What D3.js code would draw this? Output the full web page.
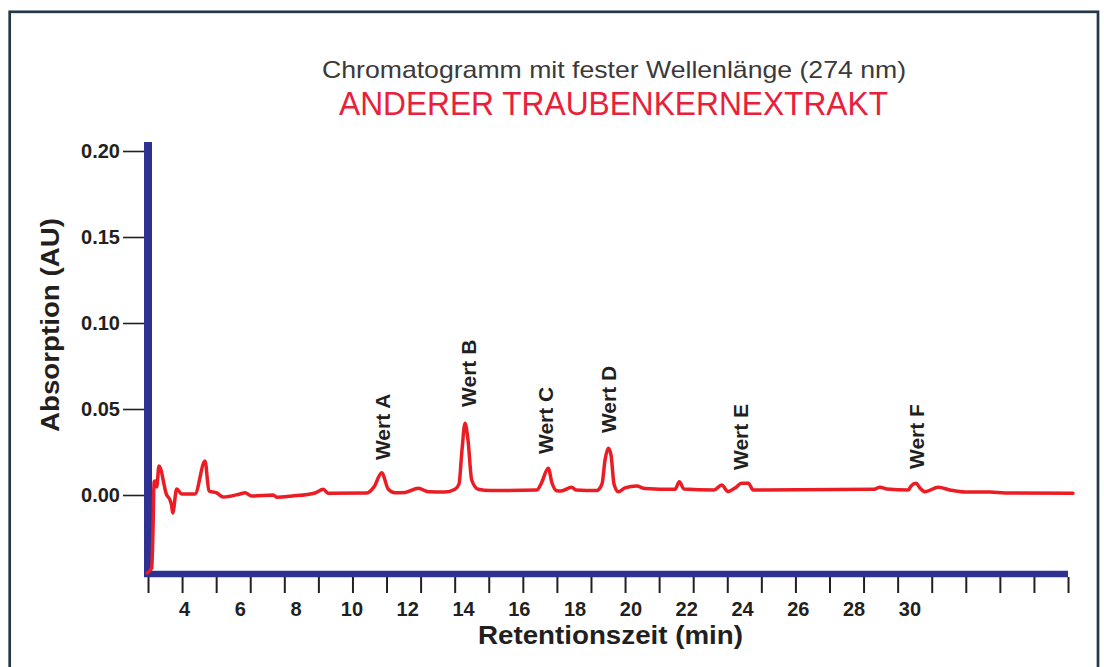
<!DOCTYPE html>
<html>
<head>
<meta charset="utf-8">
<script src="https://cdn.jsdelivr.net/npm/d3@7"></script>
<style>
  html, body { margin: 0; padding: 0; background: #ffffff; }
  svg { display: block; }
  text { font-family: "Liberation Sans", Arial, Helvetica, sans-serif; }
</style>
</head>
<body>
<svg id="chart" width="1104" height="667"></svg>
<script>
// ---------- data ----------
const titleLine1 = "Chromatogramm mit fester Wellenlänge (274 nm)";
const titleLine2 = "ANDERER TRAUBENKERNEXTRAKT";
const xTitle = "Retentionszeit (min)";
const yTitle = "Absorption (AU)";

// retention time (min)
const times = [2.685, 2.842, 2.889, 2.925, 2.978, 3.022, 3.104, 3.380, 3.498, 3.552,
  3.595, 3.738, 3.918, 4.394, 4.753, 4.896, 5.172, 5.409, 6.007, 6.186,
  6.427, 7.201, 7.323, 7.871, 8.695, 8.993, 9.172, 10.559, 10.810, 11.086,
  11.323, 11.563, 11.921, 12.398, 12.756, 13.355, 13.713, 13.857, 13.964, 14.072,
  14.179, 14.312, 14.548, 14.968, 16.652, 16.796, 17.057, 17.190, 17.358, 17.513,
  17.896, 18.050, 18.792, 18.982, 19.090, 19.208, 19.305, 19.412, 19.566, 19.806,
  20.226, 20.523, 21.599, 21.753, 21.921, 22.996, 23.272, 23.498, 23.749, 23.989,
  24.226, 24.405, 28.706, 28.946, 29.197, 29.961, 30.057, 30.237, 30.380, 30.559,
  31.036, 31.455, 31.993, 32.889, 33.427, 35.864];
// absorption (AU)
const absorb = [-0.0453, -0.0424, -0.0203, 0.0076, 0.0081, 0.0047, 0.0169, 0.0000, -0.0029, -0.0058,
  -0.0105, 0.0035, 0.0006, 0.0006, 0.0198, 0.0023, 0.0012, -0.0012, 0.0006, 0.0013,
  -0.0006, 0.0000, -0.0013, -0.0006, 0.0012, 0.0033, 0.0010, 0.0012, 0.0047, 0.0130,
  0.0033, 0.0013, 0.0015, 0.0039, 0.0019, 0.0017, 0.0033, 0.0064, 0.0262, 0.0417,
  0.0320, 0.0087, 0.0033, 0.0026, 0.0029, 0.0064, 0.0155, 0.0070, 0.0025, 0.0023,
  0.0045, 0.0029, 0.0026, 0.0064, 0.0203, 0.0272, 0.0233, 0.0064, 0.0019, 0.0041,
  0.0052, 0.0038, 0.0033, 0.0077, 0.0035, 0.0029, 0.0058, 0.0020, 0.0041, 0.0068,
  0.0068, 0.0029, 0.0033, 0.0045, 0.0035, 0.0029, 0.0052, 0.0068, 0.0041, 0.0019,
  0.0045, 0.0029, 0.0017, 0.0017, 0.0012, 0.0010];

// peak labels
const peakNames = ["Wert A", "Wert B", "Wert C", "Wert D", "Wert E", "Wert F"];
const peakTimes = [11.13, 14.18, 16.94, 19.20, 23.96, 30.26];
const peakLabelAU = [0.0203, 0.0512, 0.0238, 0.0360, 0.0145, 0.0151];

// axes
const xTickLabels = [4, 6, 8, 10, 12, 14, 16, 18, 20, 22, 24, 26, 28, 30];
const yTickValues = [0.00, 0.05, 0.10, 0.15, 0.20];
const xAxisMin = 2.710, xAxisMax = 35.685;   // extent of the time axis bar (min)
const xMinorTickCount = 28;
const yAxisMin = -0.046, yAxisMax = 0.2053;  // extent of the absorption axis bar (AU)

// ---------- drawing ----------
const svg = d3.select("#chart");
const blue = "#2e3192", red = "#ec1c24", ink = "#231f20";

const x = d3.scaleLinear().domain([4, 30]).range([184, 909.4]);
const y = d3.scaleLinear().domain([0, 0.20]).range([495, 151]);

// frame
svg.append("rect")
  .attr("x", 9.7).attr("y", 11.8).attr("width", 1088.3).attr("height", 700)
  .attr("fill", "#ffffff").attr("stroke", "#263845").attr("stroke-width", 2.7);

// titles
svg.append("text").attr("x", 614).attr("y", 78).attr("text-anchor", "middle")
  .attr("font-size", 24).attr("fill", "#3a3a3a")
  .attr("textLength", 584).attr("lengthAdjust", "spacingAndGlyphs").text(titleLine1);
svg.append("text").attr("x", 613.5).attr("y", 115).attr("text-anchor", "middle")
  .attr("font-size", 33).attr("fill", "#e8203a")
  .attr("textLength", 549).attr("lengthAdjust", "spacingAndGlyphs").text(titleLine2);

// y axis ticks and labels
const yAxisX = 144;
const gy = svg.append("g").attr("transform", `translate(${yAxisX},0)`)
  .call(d3.axisLeft(y).tickValues(yTickValues).tickSize(21).tickPadding(3).tickFormat(d3.format(".2f")));
gy.select(".domain").remove();
gy.selectAll(".tick line").attr("stroke", ink).attr("stroke-width", 1.6);
gy.selectAll(".tick text").attr("font-size", 20).attr("font-weight", "bold")
  .attr("fill", ink).attr("font-family", "Liberation Sans, Arial, sans-serif");

// x axis minor ticks (evenly spaced along the bar)
const bottomY = 577;
const minorTicks = d3.range(xMinorTickCount).map(i => xAxisMin + i * (xAxisMax - xAxisMin) / (xMinorTickCount - 1));
const gx = svg.append("g").attr("transform", `translate(0,${bottomY})`)
  .call(d3.axisBottom(x).tickValues(minorTicks).tickSize(16).tickFormat(""));
gx.select(".domain").remove();
gx.selectAll(".tick line").attr("stroke", ink).attr("stroke-width", 2);

// x axis labels
const gxl = svg.append("g").attr("transform", `translate(0,${bottomY})`)
  .call(d3.axisBottom(x).tickValues(xTickLabels).tickSize(0).tickPadding(25).tickFormat(d3.format("d")));
gxl.select(".domain").remove();
gxl.selectAll(".tick text").attr("font-size", 20).attr("font-weight", "bold")
  .attr("fill", ink).attr("font-family", "Liberation Sans, Arial, sans-serif");

// blue axis bars
svg.append("line")
  .attr("x1", x(xAxisMin)).attr("x2", x(xAxisMin))
  .attr("y1", y(yAxisMax)).attr("y2", y(yAxisMin) + 3)
  .attr("stroke", blue).attr("stroke-width", 8);
svg.append("line")
  .attr("x1", x(xAxisMin) - 4).attr("x2", x(xAxisMax))
  .attr("y1", y(yAxisMin)).attr("y2", y(yAxisMin))
  .attr("stroke", blue).attr("stroke-width", 6.5);

// axis titles
svg.append("text").attr("x", 610.5).attr("y", 644).attr("text-anchor", "middle")
  .attr("font-size", 25).attr("font-weight", "bold").attr("fill", ink)
  .attr("textLength", 265).attr("lengthAdjust", "spacingAndGlyphs").text(xTitle);
svg.append("text").attr("transform", "translate(59,325) rotate(-90)").attr("text-anchor", "middle")
  .attr("font-size", 25).attr("font-weight", "bold").attr("fill", ink)
  .attr("textLength", 214).attr("lengthAdjust", "spacingAndGlyphs").text(yTitle);

// chromatogram line
const pts = times.map((t, i) => [t, absorb[i]]);
const line = d3.line().x(d => x(d[0])).y(d => y(d[1])).curve(d3.curveMonotoneX);
svg.append("path").datum(pts).attr("d", line)
  .attr("fill", "none").attr("stroke", red).attr("stroke-width", 3.5)
  .attr("stroke-linejoin", "round").attr("stroke-linecap", "round");

// peak labels
svg.selectAll("text.peak").data(peakNames).enter().append("text")
  .attr("class", "peak")
  .attr("transform", (d, i) => `translate(${x(peakTimes[i])},${y(peakLabelAU[i])}) rotate(-90)`)
  .attr("dy", "0.36em")
  .attr("font-size", 21).attr("font-weight", "bold").attr("fill", ink)
  .text(d => d);
</script>
</body>
</html>
